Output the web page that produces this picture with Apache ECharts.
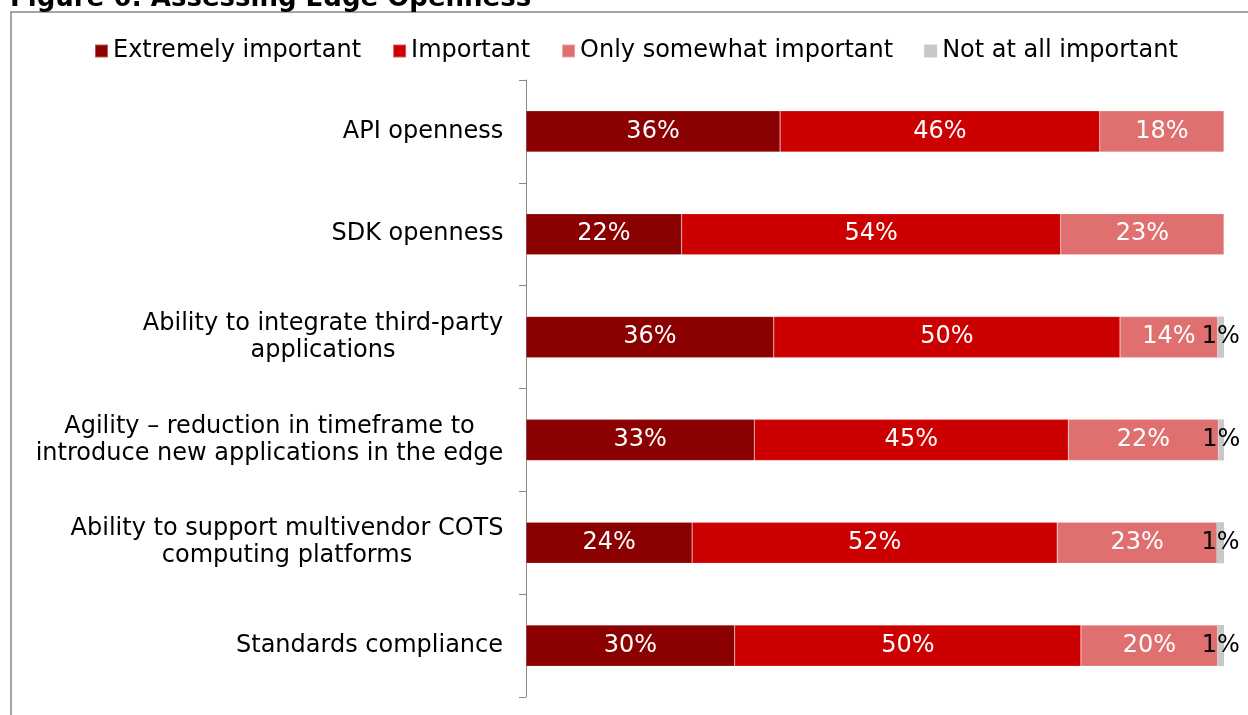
<!DOCTYPE html>
<html>
<head>
<meta charset="utf-8">
<script src="https://cdn.jsdelivr.net/npm/echarts@6/dist/echarts.min.js"></script>
<style>html,body{margin:0;padding:0;background:#fff;}#c{width:1248px;height:715px;}</style>
</head>
<body>
<div id="c"></div>
<script>
const categories = [
  "API openness",
  "SDK openness",
  "Ability to integrate third-party\napplications",
  "Agility \u2013 reduction in timeframe to\nintroduce new applications in the edge",
  "Ability to support multivendor COTS\ncomputing platforms",
  "Standards compliance"
];
const seriesNames = ["Extremely important", "Important", "Only somewhat important", "Not at all important"];
const extremely = [36.4, 22.3, 35.5, 32.7, 23.8, 29.9];
const important = [45.8, 54.3, 49.6, 45.0, 52.3, 49.6];
const somewhat  = [17.8, 23.4, 14.0, 21.5, 22.9, 19.6];
const notAtAll  = [null, null, 0.9, 0.9, 1.0, 0.9];
const colors = ["#8b0000", "#cc0000", "#e07070", "#c8c8c8"];

const FONT = "DejaVu Sans";
const FS = 24;

// measure label lines to center multi-line labels within their block
const ctx = document.createElement("canvas").getContext("2d");
ctx.font = FS + "px '" + FONT + "'";
const rich = {};
categories.forEach((c, i) => {
  const w = Math.max(...c.split("\n").map(l => ctx.measureText(l).width));
  rich["l" + i] = { width: Math.ceil(w) + 1, align: "center", fontSize: FS, fontFamily: FONT, color: "#000", lineHeight: 27 };
});

const chart = echarts.init(document.getElementById("c"), null, { renderer: "canvas" });
const dataSets = [extremely, important, somewhat, notAtAll];
const series = dataSets.map((d, i) => ({
  name: seriesNames[i],
  type: "bar",
  stack: "total",
  barWidth: "40%",
  data: d,
  itemStyle: { color: colors[i], borderColor: i < 3 ? "rgba(255,255,255,0.35)" : colors[i], borderWidth: i < 3 ? 0.5 : 0 },
  label: {
    show: true,
    position: "inside",
    formatter: p => (p.value == null ? "" : Math.round(p.value) + "%"),
    color: i === 3 ? "#000" : "#fff",
    fontSize: FS,
    fontFamily: FONT
  },
  labelLayout: { hideOverlap: false },
  emphasis: { disabled: true }
}));

chart.setOption({
  animation: false,
  textStyle: { fontFamily: FONT },
  graphic: [
    { type: "rect", shape: { x: 11, y: 12, width: 1400, height: 900 }, style: { fill: "none", stroke: "#888", lineWidth: 1.5 }, z: -1 },
    { type: "text", x: 10, y: 12, style: { text: "Figure 6: Assessing Edge Openness", font: "bold 26px '" + FONT + "'", fill: "#000", textVerticalAlign: "bottom" } }
  ],
  legend: {
    left: 89,
    top: 34,
    itemWidth: 13,
    itemHeight: 13,
    itemGap: 31,
    icon: "rect",
    textStyle: { fontSize: FS, fontFamily: FONT, color: "#000", padding: [0, 0, 0, 0] },
    data: seriesNames
  },
  grid: { left: 526, right: 24, top: 80, bottom: 18, containLabel: false },
  xAxis: { type: "value", min: 0, max: 100, show: false },
  yAxis: {
    type: "category",
    inverse: true,
    data: categories,
    axisLine: { show: true, lineStyle: { color: "#888", width: 1 } },
    axisTick: { show: true, length: 7, lineStyle: { color: "#888" } },
    axisLabel: {
      margin: 22,
      formatter: (v, idx) => v.split("\n").map(l => "{l" + idx + "|" + l + "}").join("\n"),
      rich: rich
    }
  },
  series: series
});
</script>
</body>
</html>
